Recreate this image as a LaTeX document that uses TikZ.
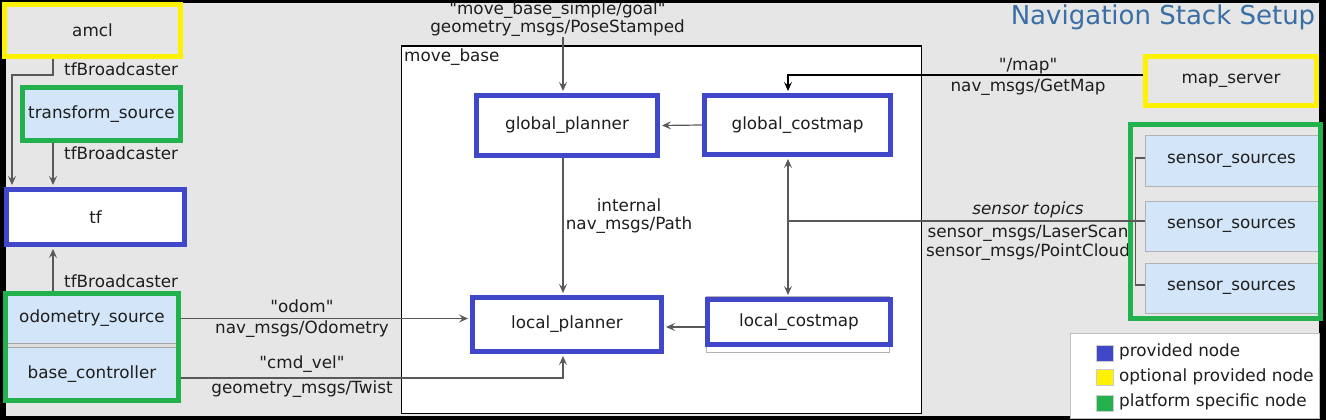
\documentclass[tikz,border=0pt]{standalone}
\usepackage{fontspec}
\setmainfont{DejaVu Sans}[Ligatures=TeXOff]
\usetikzlibrary{arrows.meta}
\definecolor{bg}{HTML}{E6E6E6}
\definecolor{lb}{HTML}{D3E5F8}
\definecolor{blu}{HTML}{4047C8}
\definecolor{yel}{HTML}{FFF200}
\definecolor{grn}{HTML}{22B14C}
\definecolor{ttl}{HTML}{3A6EA5}
\definecolor{txt}{HTML}{1E1E1E}
\begin{document}
\begin{tikzpicture}[x=1pt,y=-1pt,
  every node/.style={font=\fontsize{16.8}{18.5}\selectfont, text=txt, inner sep=0pt},
  nbox/.style={draw, line width=5pt},
  sbox/.style={draw=gray!60, line width=1pt, fill=lb, minimum width=173pt},
  conn/.style={draw=black!65, line width=1.2pt},
  arr/.style={conn, -{Stealth[length=9pt,width=8pt,inset=3.5pt]}, shorten >=2pt},
  dblarr/.style={conn, {Stealth[length=9pt,width=8pt,inset=3.5pt]}-{Stealth[length=9pt,width=8pt,inset=3.5pt]}, shorten >=2pt, shorten <=2pt},
  legsq/.style={draw=gray!40, line width=1pt, minimum width=17pt, minimum height=16pt}]
\useasboundingbox (0,0) rectangle (1326,420);
\fill[black] (0,0) rectangle (1326,420);
\fill[bg] (6,3) rectangle (1319,416);

% move_base container
\node[draw=black, line width=1.5pt, fill=white, anchor=north west,
      minimum width=520pt, minimum height=367pt] (mb) at (400.5,45.5) {};
\node[anchor=west] (mblabel) at (404,57) {move\_base};

% title
\node[font=\fontsize{26}{30}\selectfont, text=ttl] (title) at (1163,17) {Navigation Stack Setup};

% left column
\node[nbox, draw=yel, fill=bg, minimum width=176pt, minimum height=52pt] (amcl) at (92.5,30.5) {amcl};
\node[nbox, draw=grn, fill=lb, minimum width=158pt, minimum height=53pt] (tsrc) at (101.5,114) {transform\_source};
\node[nbox, draw=blu, fill=white, minimum width=178pt, minimum height=55pt] (tf) at (95.5,217) {tf};
\node[fill=lb, minimum width=178pt, minimum height=55pt] (odo) at (92,318.5) {odometry\_source};
\node[fill=lb, minimum width=178pt, minimum height=57pt] (base) at (92,374.5) {base\_controller};
\fill[gray!25] (8,343.5) rectangle (176,347.5);
\draw[gray!70, line width=1pt] (8,343.5) -- (176,343.5) (8,347.5) -- (176,347.5);
\draw[grn, line width=5pt] (5.5,293.5) rectangle (178.5,400.5);

% move_base inner nodes
\node[nbox, draw=blu, fill=white, minimum width=181pt, minimum height=60pt] (gp) at (567,125.5) {global\_planner};
\node[nbox, draw=blu, fill=white, minimum width=186pt, minimum height=59pt] (gc) at (797.5,125) {global\_costmap};
\node[nbox, draw=blu, fill=white, minimum width=189pt, minimum height=54pt] (lp) at (567,324.5) {local\_planner};
\draw[gray!60, line width=1pt, fill=white] (706,296) rectangle (889,352);
\node[nbox, draw=blu, fill=white, minimum width=183pt, minimum height=45pt] (lc) at (799,322) {local\_costmap};

% right side
\node[nbox, draw=yel, fill=bg, minimum width=171pt, minimum height=49pt] (ms) at (1231,81) {map\_server};

% labels
\node[anchor=west] (lb1) at (64,69) {tfBroadcaster};
\node[anchor=west] (lb2) at (64,153) {tfBroadcaster};
\node[anchor=west] (lb3) at (64,281) {tfBroadcaster};
\node[align=center] (goal) at (557.5,19) {"move\_base\_simple/goal"\\geometry\_msgs/PoseStamped};
\node[align=center] (intl) at (629,216) {internal\\nav\_msgs/Path};
\node (od1) at (302,306) {"odom"};
\node (od2) at (302,329) {nav\_msgs/Odometry};
\node (cv1) at (302,364) {"cmd\_vel"};
\node (cv2) at (302,389) {geometry\_msgs/Twist};
\node (mp1) at (1028,66) {"/map"};
\node (mp2) at (1028,87) {nav\_msgs/GetMap};
\node[font=\fontsize{16.8}{18.5}\selectfont\itshape] (st1) at (1028,210) {sensor topics};
\node (st2) at (1028,233) {sensor\_msgs/LaserScan};
\node (st3) at (1028,252) {sensor\_msgs/PointCloud};

% sensor group
\node[sbox, minimum height=51pt] (s1) at (1231.5,160.5) {sensor\_sources};
\node[sbox, minimum height=50pt] (s2) at (1231.5,226) {sensor\_sources};
\node[sbox, minimum height=50pt] (s3) at (1231.5,288) {sensor\_sources};
\draw[grn, line width=5pt] (1130.5,124.5) rectangle (1320.5,318.5);

% coordinates
\coordinate (gx) at (563,0);
\coordinate (cx) at (788,0);
\coordinate (ax) at (53,0);
\coordinate (bx) at (12,0);
\coordinate (ay) at (0,75);

% connectors
\draw[arr] (ax |- amcl.south) -- (ax |- ay) -- (bx |- ay) -- (bx |- tf.north);
\draw[arr] (ax |- tsrc.south) -- (ax |- tf.north);
\draw[arr] (ax |- odo.north) -- (ax |- tf.south);
\draw[arr] (odo.east) -- (odo.east -| lp.west);
\draw[arr] ([yshift=-3.5pt]base.east) -| (gx |- lp.south);
\draw[arr] (gx |- goal.south) -- (gx |- gp.north);
\draw[arr] (gc.west) -- (gp.east);
\draw[arr] (gx |- gp.south) -- (gx |- lp.north);
\draw[arr] ([yshift=-5pt]lc.west) -- ([yshift=-5pt]lc.west -| lp.east);
\draw[arr, draw=black] ([yshift=6pt]ms.west) -| (cx |- gc.north);
\draw[dblarr] (cx |- gc.south) -- (cx |- lc.north);
\draw[conn] ([yshift=5pt]s2.west) -- ([yshift=5pt]s2.west -| cx);
\draw[conn] ([yshift=2.5pt]s1.west) -- ++(-9,0) |- ([yshift=3pt]s3.west);

% legend
\node[draw=gray!50, fill=white, line width=1pt, anchor=north west,
      minimum width=249pt, minimum height=85pt] (legend) at (1069.5,332.5) {};
\node[legsq, fill=blu] (k1) at (1105,353) {};
\node[legsq, fill=yel] (k2) at (1105,377) {};
\node[legsq, fill=grn] (k3) at (1105,403) {};
\node[anchor=west] (t1) at (1119,352) {provided node};
\node[anchor=west] (t2) at (1119,377) {optional provided node};
\node[anchor=west] (t3) at (1119,402) {platform specific node};
\end{tikzpicture}
\end{document}
